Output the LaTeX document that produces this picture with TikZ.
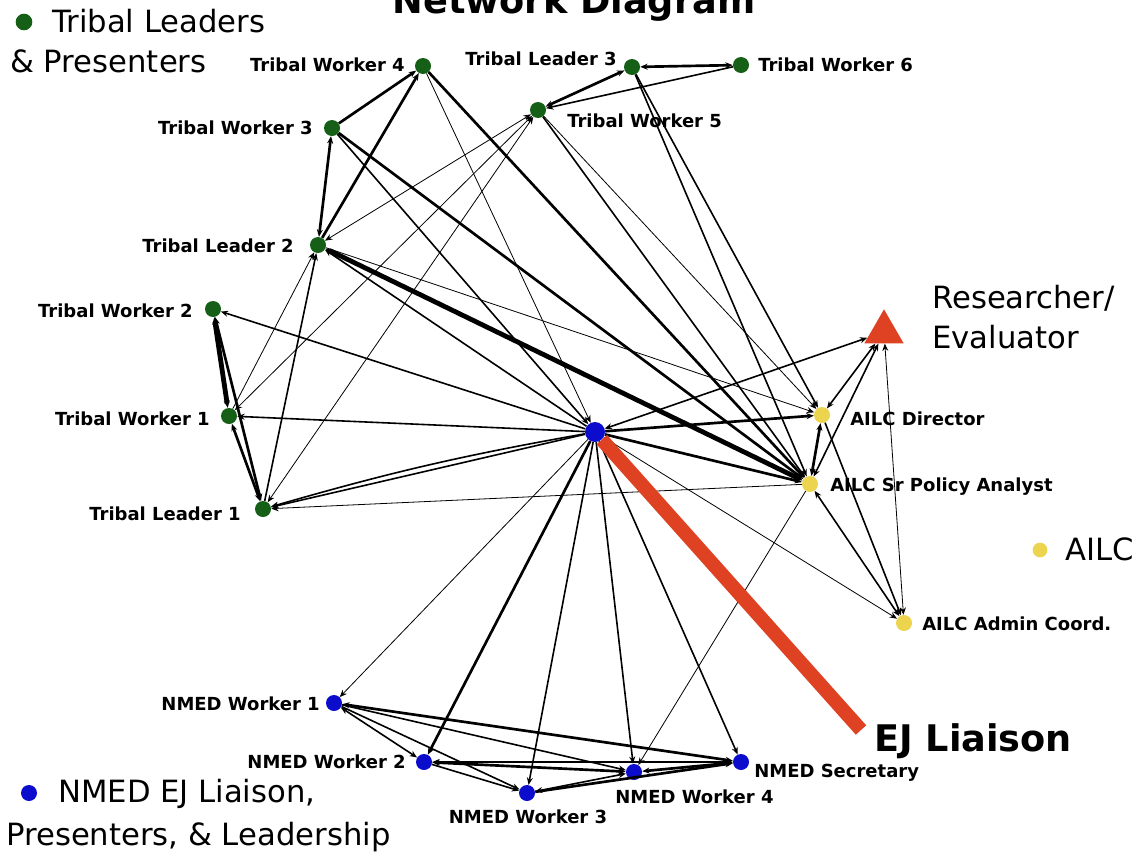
\documentclass[tikz,border=0pt]{standalone}
\usepackage{fontspec}
\setmainfont{DejaVu Sans}
\usetikzlibrary{shapes.geometric, arrows.meta}
\definecolor{tribalgreen}{RGB}{22,95,22}
\definecolor{nmedblue}{RGB}{12,12,205}
\definecolor{ailcyellow}{RGB}{236,212,78}
\definecolor{evalred}{RGB}{222,66,34}
\tikzstyle{tribal} = [circle, fill=tribalgreen, minimum size=12pt, inner sep=0pt]
\tikzstyle{nmed} = [circle, fill=nmedblue, minimum size=12pt, inner sep=0pt]
\tikzstyle{ailc} = [circle, fill=ailcyellow, minimum size=12pt, inner sep=0pt]
\tikzstyle{evaluator} = [regular polygon, regular polygon sides=3, fill=evalred, minimum size=34pt, inner sep=0pt]
\tikzstyle{who} = [inner sep=0pt, font=\bfseries\fontsize{13.5}{16}\selectfont]
\tikzstyle{legend text} = [inner sep=0pt, font=\fontsize{23}{28}\selectfont]
\tikzstyle{headline} = [inner sep=0pt, font=\bfseries\fontsize{27.5}{33}\selectfont]
\tikzstyle{weak tie} = [->, line width=0.6pt]
\tikzstyle{mid tie} = [->, line width=1.2pt]
\tikzstyle{strong tie} = [->, line width=2pt]
\tikzstyle{heavy tie} = [->, line width=3.6pt]
\tikzstyle{liaison} = [evalred, line width=10.5pt]

\begin{document}
\begin{tikzpicture}[x=0.75pt,y=0.75pt,yscale=-1,xscale=1,>={Stealth[length=5.5pt,width=4.5pt]}]
\useasboundingbox (0,0) rectangle (1148,857);

%Tribal nodes
\node [tribal] (tw4) at (423,66) {};
\node [tribal] (tl3) at (632,67) {};
\node [tribal] (tw6) at (741,65) {};
\node [tribal] (tw5) at (538,110) {};
\node [tribal] (tw3) at (332,128) {};
\node [tribal] (tl2) at (318,245) {};
\node [tribal] (tw2) at (213,309) {};
\node [tribal] (tw1) at (229,416) {};
\node [tribal] (tl1) at (263,509) {};
%NMED nodes
\node [nmed, minimum size=15pt] (hub) at (595,432) {};
\node [nmed] (nw1) at (334,703) {};
\node [nmed] (nw2) at (424,762) {};
\node [nmed] (nw3) at (527,793) {};
\node [nmed] (nw4) at (634,772) {};
\node [nmed] (nsec) at (741,762) {};
%AILC nodes
\node [ailc] (dir) at (822,415) {};
\node [ailc] (spa) at (810,484) {};
\node [ailc] (adm) at (904,623) {};
\node [evaluator] (res) at (884,332) {};
\coordinate (ej end) at (861,730);

%Straight Lines, tribal side
\draw [strong tie] (tw3) -- (tw4);
\draw [strong tie] (tl2) -- (tw4);
\draw [strong tie,<->] (tl2) -- (tw3);
\draw [strong tie,<->] (tw5) -- (tl3);
\draw [strong tie,<->] (tl3) -- (tw6);
\draw [mid tie] (tw6) -- (tw5);
\draw [heavy tie,<->] (tw1) -- (tw2);
\draw [strong tie,<->] (tl1) -- (tw2);
\draw [strong tie,<->] (tl1) -- (tw1);
\draw [mid tie] (tl1) -- (tl2);
\draw [weak tie,<->] (tw5) -- (tl1);
\draw [weak tie,<->] (tw5) -- (tw1);
\draw [weak tie,<->] (tw5) -- (tl2);
\draw [weak tie] (tw1) -- (tl2);
%Straight Lines, towards EJ Liaison and AILC
\draw [weak tie] (tw4) -- (hub);
\draw [strong tie] (tw4) -- (spa);
\draw [mid tie] (tw3) -- (hub);
\draw [strong tie] (tw3) -- (spa);
\draw [heavy tie,<->] (tl2) -- (spa);
\draw [mid tie] (hub) -- (tl2);
\draw [weak tie] (tl2) -- (dir);
\draw [mid tie] (tw5) -- (spa);
\draw [weak tie] (tw5) -- (dir);
\draw [mid tie] (tl3) -- (spa);
\draw [mid tie] (tl3) -- (dir);
\draw [mid tie] (hub) -- (tw2);
\draw [mid tie] (hub) -- (tw1);
\draw [mid tie] (hub) -- (tl1);
\draw [mid tie] (hub) to[bend left=3] (tl1);
\draw [weak tie] (spa) -- (tl1);
\draw [strong tie] (hub) -- (dir);
\draw [strong tie] (hub) -- (spa);
\draw [mid tie,<->] (hub) -- (res);
\draw [weak tie] (hub) -- (adm);
%Straight Lines, EJ Liaison to NMED
\draw [weak tie] (hub) -- (nw1);
\draw [strong tie] (hub) -- (nw2);
\draw [mid tie] (hub) -- (nw3);
\draw [mid tie] (hub) -- (nw4);
\draw [mid tie] (hub) -- (nsec);
\draw [weak tie] (spa) -- (nw4);
%Straight Lines, AILC
\draw [strong tie,<->] (spa) -- (dir);
\draw [mid tie,<->] (res) -- (dir);
\draw [mid tie,<->] (res) -- (spa);
\draw [weak tie,<->] (res) -- (adm);
\draw [mid tie] (dir) -- (adm);
\draw [mid tie,<->] (adm) -- (spa);
%Straight Lines, NMED
\draw [mid tie,<->] (nw1) -- (nw2);
\draw [mid tie] (nw1) -- (nw3);
\draw [mid tie] (nw1) -- (nw4);
\draw [strong tie,<->] (nw1) -- (nsec);
\draw [strong tie,<->] (nw2) -- (nw4);
\draw [strong tie,<->] (nw2) -- (nsec);
\draw [mid tie] (nw2) -- (nw3);
\draw [mid tie,<->] (nw3) -- (nw4);
\draw [strong tie] (nw3) -- (nsec);
\draw [strong tie,<->] (nw4) -- (nsec);
%EJ Liaison bar
\draw [liaison] (hub) -- (ej end);

% Text Node
\node [headline, anchor=base] (title) at (574,13) {Network Diagram};
% Text Node
\node [who, anchor=base east] (lbl tw4) at (405,71) {Tribal Worker 4};
\node [who, anchor=base east] (lbl tl3) at (617,65) {Tribal Leader 3};
\node [who, anchor=base west] (lbl tw6) at (758,71) {Tribal Worker 6};
\node [who, anchor=base west] (lbl tw5) at (567,127) {Tribal Worker 5};
\node [who, anchor=base east] (lbl tw3) at (313,134) {Tribal Worker 3};
\node [who, anchor=base east] (lbl tl2) at (294,252) {Tribal Leader 2};
\node [who, anchor=base east] (lbl tw2) at (193,317) {Tribal Worker 2};
\node [who, anchor=base east] (lbl tw1) at (210,425) {Tribal Worker 1};
\node [who, anchor=base east] (lbl tl1) at (241,520) {Tribal Leader 1};
% Text Node
\node [who, anchor=base west] (lbl dir) at (850,425) {AILC Director};
\node [who, anchor=base west] (lbl spa) at (830,491) {AILC Sr Policy Analyst};
\node [who, anchor=base west] (lbl adm) at (922,630) {AILC Admin Coord.};
% Text Node
\node [who, anchor=base east] (lbl nw1) at (320,710) {NMED Worker 1};
\node [who, anchor=base east] (lbl nw2) at (406,768) {NMED Worker 2};
\node [who, anchor=base] (lbl nw3) at (528,823) {NMED Worker 3};
\node [who, anchor=base west] (lbl nw4) at (615,803) {NMED Worker 4};
\node [who, anchor=base west] (lbl nsec) at (754,777) {NMED Secretary};
% Text Node
\node [headline, anchor=base west] (lbl ej) at (874,751) {EJ Liaison};
\node [legend text, anchor=base west] (lbl res) at (932,308) {Researcher/};
\node [legend text, anchor=base west] (lbl res2) at (932,348) {Evaluator};

%Legend
\node [tribal, minimum size=12.5pt] (key tribal) at (24,22) {};
\node [legend text, anchor=base west] (key tribal1) at (52,32) {Tribal Leaders};
\node [legend text, anchor=base west] (key tribal2) at (10,72) {\& Presenters};
\node [ailc, minimum size=11pt] (key ailc) at (1040,550) {};
\node [legend text, anchor=base west] (key ailc1) at (1065,560) {AILC};
\node [nmed, minimum size=12pt] (key nmed) at (29,793) {};
\node [legend text, anchor=base west] (key nmed1) at (58,802) {NMED EJ Liaison,};
\node [legend text, anchor=base west] (key nmed2) at (6,845) {Presenters, \& Leadership};

\end{tikzpicture}
\end{document}
